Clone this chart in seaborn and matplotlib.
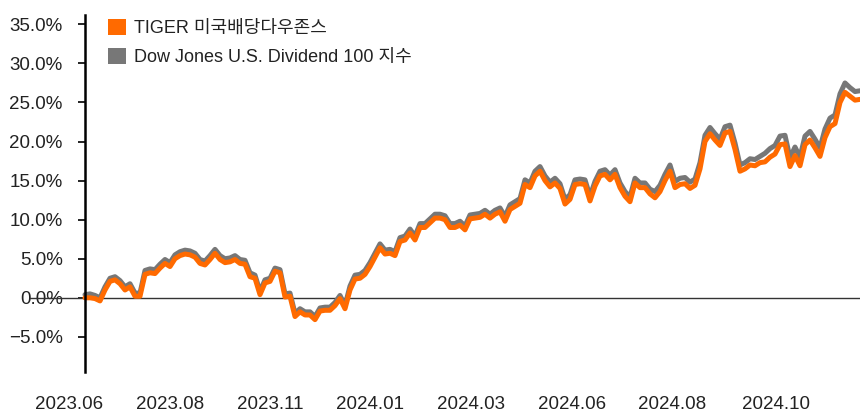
import matplotlib
matplotlib.use("Agg")
import numpy as np
import pandas as pd
import matplotlib.pyplot as plt
import seaborn as sns
from matplotlib.patches import Patch
from matplotlib.ticker import FuncFormatter

# cumulative return (%) at regular steps
tiger = [
    0.0, 0.0, -0.1, -0.4, 1.0, 2.1, 2.3, 1.8, 1.0, 1.4,
    0.2, 0.2, 3.0, 3.2, 3.1, 3.8, 4.4, 4.0, 5.0, 5.4,
    5.6, 5.5, 5.2, 4.4, 4.2, 4.9, 5.7, 4.9, 4.5, 4.6,
    4.9, 4.4, 4.3, 2.7, 2.5, 0.4, 1.9, 2.1, 3.4, 3.2,
    0.1, 0.2, -2.4, -1.8, -2.2, -2.2, -2.8, -1.7, -1.6, -1.6,
    -1.0, -0.1, -1.4, 1.0, 2.4, 2.5, 3.0, 4.0, 5.2, 6.4,
    5.6, 5.7, 5.4, 7.2, 7.4, 8.3, 7.4, 9.0, 9.0, 9.6,
    10.2, 10.2, 10.0, 9.0, 9.0, 9.3, 8.7, 10.1, 10.2, 10.3,
    10.7, 10.2, 10.7, 11.0, 9.8, 11.3, 11.7, 12.1, 14.5, 14.1,
    15.6, 16.2, 15.0, 14.2, 14.7, 14.0, 12.0, 12.6, 14.5, 14.6,
    14.5, 12.4, 14.3, 15.6, 15.8, 15.1, 15.8, 14.1, 13.0, 12.3,
    14.7, 14.1, 14.1, 13.3, 12.8, 13.6, 15.0, 16.2, 14.1, 14.5,
    14.6, 14.0, 14.4, 16.5, 20.0, 21.0, 20.2, 19.5, 21.1, 21.3,
    19.0, 16.2, 16.5, 17.0, 16.9, 17.3, 17.4, 18.0, 18.4, 19.6,
    19.7, 16.8, 18.2, 16.9, 19.6, 20.2, 19.2, 18.1, 20.5, 21.9,
    22.3, 25.0, 26.3, 25.8, 25.3, 25.4,
]
dowjones = [
    0.4, 0.5, 0.3, 0.0, 1.4, 2.5, 2.7, 2.2, 1.4, 1.8,
    0.6, 0.6, 3.5, 3.7, 3.6, 4.3, 4.9, 4.5, 5.5, 5.9,
    6.1, 6.0, 5.7, 4.9, 4.7, 5.4, 6.2, 5.4, 5.0, 5.1,
    5.4, 4.9, 4.8, 3.2, 2.9, 0.8, 2.3, 2.5, 3.8, 3.6,
    0.5, 0.6, -2.0, -1.4, -1.8, -1.8, -2.4, -1.3, -1.2, -1.2,
    -0.6, 0.3, -1.0, 1.5, 2.9, 3.0, 3.5, 4.5, 5.7, 6.9,
    6.1, 6.2, 5.9, 7.7, 7.9, 8.8, 7.9, 9.5, 9.5, 10.1,
    10.7, 10.7, 10.5, 9.5, 9.5, 9.8, 9.2, 10.6, 10.7, 10.8,
    11.2, 10.7, 11.2, 11.5, 10.4, 11.9, 12.3, 12.7, 15.1, 14.7,
    16.2, 16.8, 15.6, 14.8, 15.3, 14.6, 12.6, 13.2, 15.1, 15.2,
    15.1, 13.0, 14.9, 16.2, 16.4, 15.7, 16.4, 14.7, 13.6, 12.9,
    15.3, 14.7, 14.7, 13.9, 13.6, 14.4, 15.8, 17.0, 14.9, 15.3,
    15.4, 14.8, 15.2, 17.3, 20.8, 21.8, 21.0, 20.3, 21.9, 22.1,
    19.8, 17.0, 17.3, 17.8, 17.7, 18.1, 18.5, 19.1, 19.5, 20.7,
    20.8, 17.9, 19.3, 18.0, 20.7, 21.3, 20.3, 19.2, 21.6, 23.0,
    23.4, 26.1, 27.5, 26.9, 26.4, 26.5,
]
tick_pos = [-3.2, 17, 37, 57, 77.2, 97.4, 117.4, 138.2]
tick_labels = ["2023.06", "2023.08", "2023.11", "2024.01",
               "2024.03", "2024.06", "2024.08", "2024.10"]

name_tiger = "TIGER 미국배당다우존스"
name_dow = "Dow Jones U.S. Dividend 100 지수"
colors = {name_tiger: "#FF6A00", name_dow: "#777777"}

df = pd.concat([
    pd.DataFrame({"x": np.arange(len(dowjones)), "ret": dowjones, "series": name_dow}),
    pd.DataFrame({"x": np.arange(len(tiger)), "ret": tiger, "series": name_tiger}),
])

sns.set_style("white")
plt.rcParams["font.family"] = ["Liberation Sans", "Noto Sans CJK KR"]
plt.rcParams["axes.unicode_minus"] = True

fig = plt.figure(figsize=(8.6, 4.11), dpi=100)
ax = fig.add_axes([30 / 860, 1 - 372 / 411, 830 / 860, (372 - 15) / 411])

ax.axhline(0, color="#333333", lw=1.0, zorder=1)
sns.lineplot(data=df, x="x", y="ret", hue="series", palette=colors,
             hue_order=[name_dow, name_tiger], lw=3.6, legend=False, ax=ax)

ax.set_xlim(-11, 155)
ax.set_ylim(-9.5, 36.2)
ax.set_yticks(np.arange(-5, 36, 5))
ax.yaxis.set_major_formatter(FuncFormatter(lambda v, p: f"{v:.1f}%".replace("-", "\u2212")))
ax.set_xticks(tick_pos)
ax.set_xticklabels(tick_labels)

for s in ["top", "right", "bottom"]:
    ax.spines[s].set_visible(False)
ax.spines["left"].set_position(("data", 0))
ax.spines["left"].set_color("black")
ax.spines["left"].set_linewidth(1.8)

ax.tick_params(axis="y", left=True, length=5, width=1.2, color="black",
               pad=11, labelsize=13.5, labelcolor="#222222")
ax.tick_params(axis="x", bottom=False, length=0, pad=17,
               labelsize=13.5, labelcolor="#222222")
ax.set_xlabel("")
ax.set_ylabel("")

handles = [Patch(facecolor=colors[name_tiger], edgecolor="none"),
           Patch(facecolor=colors[name_dow], edgecolor="none")]
fig.legend(handles, [name_tiger, name_dow], loc="upper left",
           bbox_to_anchor=(108 / 860, 1 - 19 / 411), frameon=False,
           fontsize=13, handlelength=1.0, handleheight=1.0,
           handletextpad=0.45, labelspacing=0.6, borderpad=0, borderaxespad=0,
           labelcolor="#222222")

fig.savefig("out.png", dpi=100)
